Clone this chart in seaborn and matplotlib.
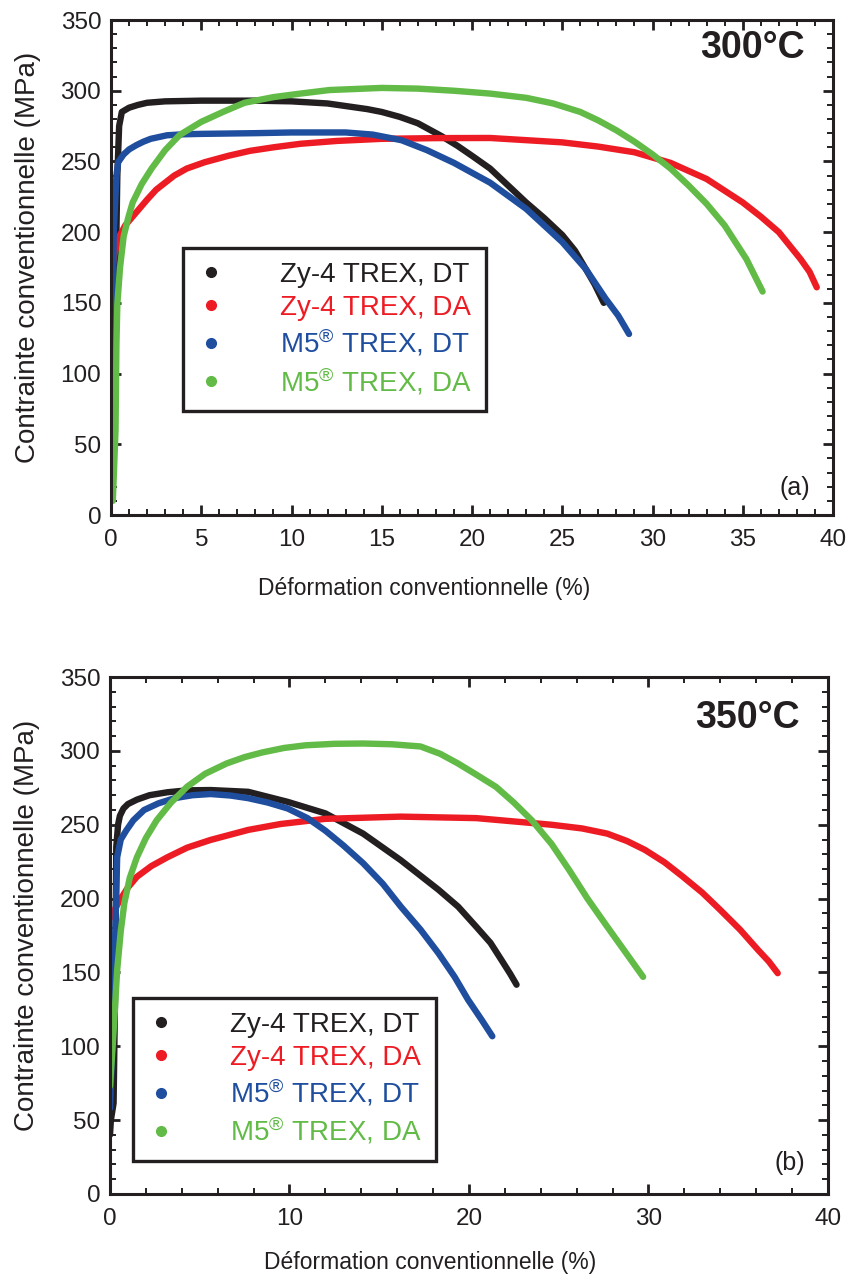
import numpy as np
import pandas as pd
import matplotlib
matplotlib.use("Agg")
import matplotlib.pyplot as plt
from matplotlib.lines import Line2D
from matplotlib.ticker import MultipleLocator
from matplotlib import font_manager
import seaborn as sns

# ---------------- data ----------------
series_names = ["Zy-4 TREX, DT", "Zy-4 TREX, DA", "M5® TREX, DT", "M5® TREX, DA"]
legend_labels = ["Zy-4 TREX, DT", "Zy-4 TREX, DA",
                 "M5$^{\u00ae}$ TREX, DT", "M5$^{\u00ae}$ TREX, DA"]
colors = ["#231f20", "#ed1c24", "#1f4e9f", "#62bb46"]

# 300 °C
a_zy_dt_x = [0.0, 0.15, 0.25, 0.35, 0.45, 0.6, 1.0, 1.5, 2.0, 3.0, 5, 8, 10, 12, 13.1, 14.2, 15, 16, 17, 18.3, 19.2, 20, 21, 22, 23, 24, 25, 25.7, 26.3, 26.8, 27.3]
a_zy_dt_y = [58, 70, 160, 240, 275, 285, 288, 290, 291.5, 292.5, 293, 293, 292.5, 291, 289, 287, 285, 281.5, 277, 268, 261, 254, 245, 233, 221, 210, 198, 187, 174, 163, 150]
a_zy_da_x = [0.0, 0.05, 0.2, 0.5, 0.8, 1.2, 1.6, 2.0, 2.5, 3.0, 3.5, 4.2, 5.2, 6.5, 7.7, 9.0, 10.5, 12.5, 15, 18, 21, 25, 27, 29, 31, 33, 35, 36, 37, 38.2, 38.7, 39.1]
a_zy_da_y = [160, 172, 185, 198, 205, 211, 217, 223, 230, 235, 240, 245, 249.5, 254, 257.5, 260, 262.5, 264.5, 266, 266.5, 266.6, 263.5, 260.5, 256.5, 249, 237.6, 221, 211, 200, 181, 172, 161]
a_m5_dt_x = [0.0, 0.05, 0.15, 0.3, 0.4, 0.7, 1.0, 1.4, 1.8, 2.2, 3.1, 4, 5, 8, 10, 13, 14.5, 16.1, 17.5, 19, 21, 23, 25, 26.3, 27.4, 28.1, 28.7]
a_m5_dt_y = [22, 80, 200, 240, 249.6, 255, 258.5, 261.5, 264, 266, 268.5, 269.2, 269.5, 270, 270.5, 270.5, 269, 265, 258, 249, 235, 216.5, 193, 174, 153, 141, 128]
a_m5_da_x = [0.1, 0.25, 0.3, 0.35, 0.5, 0.7, 0.95, 1.2, 1.7, 2.25, 3.0, 3.8, 5.0, 6.2, 7.4, 9.0, 10.5, 12.1, 15, 17, 19, 21, 23, 24.5, 26, 27, 28, 29, 30, 31, 32, 33, 34, 35.2, 36.1]
a_m5_da_y = [10, 60, 120, 149, 175, 197, 210, 221, 234, 245, 258, 268.7, 278, 285, 291.5, 295.5, 298, 300.5, 302, 301.5, 300, 298, 295, 291, 285, 279, 272, 264, 255, 245, 233, 220, 204.7, 181, 158]

# 350 °C
b_zy_dt_x = [0.0, 0.05, 0.2, 0.3, 0.35, 0.45, 0.55, 0.75, 1.0, 1.5, 2.2, 3.2, 4.3, 5.6, 7.7, 9.9, 12, 14.1, 16.2, 18.3, 19.4, 20.4, 21.2, 21.8, 22.3, 22.65]
b_zy_dt_y = [40, 50, 61.5, 150, 235, 250, 256, 261, 264, 267, 270, 272, 273.3, 273.5, 272.3, 265.5, 257.7, 244, 226, 206, 194.5, 181, 170, 158.6, 149, 141.7]
b_zy_da_x = [0.0, 0.55, 1.0, 1.5, 2.3, 3.2, 4.3, 5.6, 7.7, 9.5, 12, 16.2, 20.4, 24.6, 26.3, 27.7, 28.8, 29.8, 30.9, 31.9, 33, 34, 35.1, 36.1, 36.7, 37.2]
b_zy_da_y = [186.6, 199, 207.5, 214.8, 222, 228, 234.5, 239.7, 246.5, 250.5, 254, 255.5, 254.5, 250, 247.5, 244, 239, 233, 224.5, 215, 204, 192.3, 179, 165.3, 157.5, 149.5]
b_m5_dt_x = [0.0, 0.2, 0.4, 0.6, 0.9, 1.3, 1.9, 2.7, 3.6, 4.6, 5.6, 6.7, 7.7, 8.8, 9.9, 11, 12, 13, 14.1, 15.2, 16.2, 17.3, 18.3, 19.2, 19.95, 20.7, 21.3]
b_m5_dt_y = [58, 130, 228, 240, 246, 253, 260, 264.5, 268, 270, 270.8, 269.8, 268, 265, 261, 254.5, 246, 236, 224, 210, 194.6, 179, 163, 147, 131.5, 118, 106.8]
b_m5_da_x = [0.0, 0.2, 0.4, 0.6, 0.8, 1.1, 1.5, 2.0, 2.6, 3.4, 4.3, 5.3, 6.5, 7.5, 8.5, 9.7, 10.9, 12.5, 14.1, 15.7, 17.3, 18.4, 19.4, 20.4, 21.5, 22.5, 23.5, 24.6, 25.6, 26.6, 27.7, 28.7, 29.7]
b_m5_da_y = [73, 110, 151.7, 178, 197, 214, 228, 241, 253, 265, 275.8, 284.5, 291.5, 295.8, 299, 302, 303.8, 304.8, 305, 304.5, 303, 298, 291.4, 284, 275.7, 265, 253, 237, 219, 200, 181, 164, 147]

panel_a = [(a_zy_dt_x, a_zy_dt_y), (a_zy_da_x, a_zy_da_y), (a_m5_dt_x, a_m5_dt_y), (a_m5_da_x, a_m5_da_y)]
panel_b = [(b_zy_dt_x, b_zy_dt_y), (b_zy_da_x, b_zy_da_y), (b_m5_dt_x, b_m5_dt_y), (b_m5_da_x, b_m5_da_y)]

temps = ["300°C", "350°C"]
tags = ["(a)", "(b)"]
x_major = [5, 10]
x_minor = [1, 2]
xlabel = "Déformation conventionnelle (%)"
ylabel = "Contrainte conventionnelle (MPa)"

# ---------------- style ----------------
sns.set_theme(style="ticks")
available = {f.name for f in font_manager.fontManager.ttflist}
base_font = "Liberation Sans" if "Liberation Sans" in available else "DejaVu Sans"
plt.rcParams["font.family"] = [base_font, "DejaVu Sans"]
plt.rcParams["mathtext.fontset"] = "custom"
plt.rcParams["mathtext.rm"] = base_font
plt.rcParams["mathtext.it"] = base_font
plt.rcParams["mathtext.bf"] = base_font + ":bold"
plt.rcParams["axes.facecolor"] = "white"
plt.rcParams["figure.facecolor"] = "white"

ink = "#231f20"
fig = plt.figure(figsize=(8.5, 12.84), dpi=100)
ax_a = fig.add_axes([0.1306, 0.5989, 0.8494, 0.3855])
ax_b = fig.add_axes([0.1294, 0.0701, 0.8447, 0.4026])

def make_df(panel):
    rows = []
    for name, (xs, ys) in zip(series_names, panel):
        for x, y in zip(xs, ys):
            rows.append({"strain": x, "stress": y, "series": name})
    return pd.DataFrame(rows)

setups = [
    (ax_a, panel_a, 0, (0.0997, 0.539), (0.961, 0.943), (0.968, 0.055), (0.434, -0.125)),
    (ax_b, panel_b, 1, (0.032, 0.379), (0.961, 0.921), (0.968, 0.060), (0.446, -0.110)),
]

for ax, panel, k, leg_pos, temp_pos, tag_pos, xlab_pos in setups:
    df = make_df(panel)
    sns.lineplot(data=df, x="strain", y="stress", hue="series", hue_order=series_names,
                 palette=colors, sort=False, estimator=None, units="series",
                 linewidth=4.6, legend=False, ax=ax,
                 solid_capstyle="round", solid_joinstyle="round")
    ax.set_xlim(0, 40)
    ax.set_ylim(0, 350)
    ax.xaxis.set_major_locator(MultipleLocator(x_major[k]))
    ax.xaxis.set_minor_locator(MultipleLocator(x_minor[k]))
    ax.yaxis.set_major_locator(MultipleLocator(50))
    ax.yaxis.set_minor_locator(MultipleLocator(10))
    ax.tick_params(which="both", direction="in", top=True, right=True, color=ink)
    ax.tick_params(which="major", length=7, width=2)
    ax.tick_params(which="minor", length=4, width=1.4)
    ax.tick_params(axis="y", which="major", labelsize=17.5, pad=7, labelcolor=ink)
    ax.tick_params(axis="x", which="major", labelsize=17.5, pad=10, labelcolor=ink)
    for sp in ax.spines.values():
        sp.set_linewidth(2.2)
        sp.set_color(ink)
        sp.set_visible(True)
    ax.set_xlabel(xlabel, fontsize=16.5, color=ink)
    ax.set_ylabel(ylabel, fontsize=20, color=ink)
    ax.xaxis.set_label_coords(xlab_pos[0], xlab_pos[1])
    ax.yaxis.set_label_coords(-0.097, 0.52)

    handles = [Line2D([], [], linestyle="none", marker="o", markersize=7,
                      markerfacecolor=c, markeredgecolor=c) for c in colors]
    leg = ax.legend(handles, legend_labels, loc="upper left", bbox_to_anchor=leg_pos,
                    borderaxespad=0, fontsize=20, frameon=True, fancybox=False,
                    framealpha=1, handlelength=1.0, handletextpad=2.0,
                    borderpad=0.5, labelspacing=0.24)
    leg.get_frame().set_edgecolor(ink)
    leg.get_frame().set_linewidth(2.4)
    for txt, c in zip(leg.get_texts(), colors):
        txt.set_color(c)

    ax.text(temp_pos[0], temp_pos[1], temps[k], transform=ax.transAxes, ha="right",
            va="center", fontsize=27, fontweight="bold", color=ink)
    ax.text(tag_pos[0], tag_pos[1], tags[k], transform=ax.transAxes, ha="right",
            va="center", fontsize=18, color=ink)

fig.savefig("out.png", dpi=100)
